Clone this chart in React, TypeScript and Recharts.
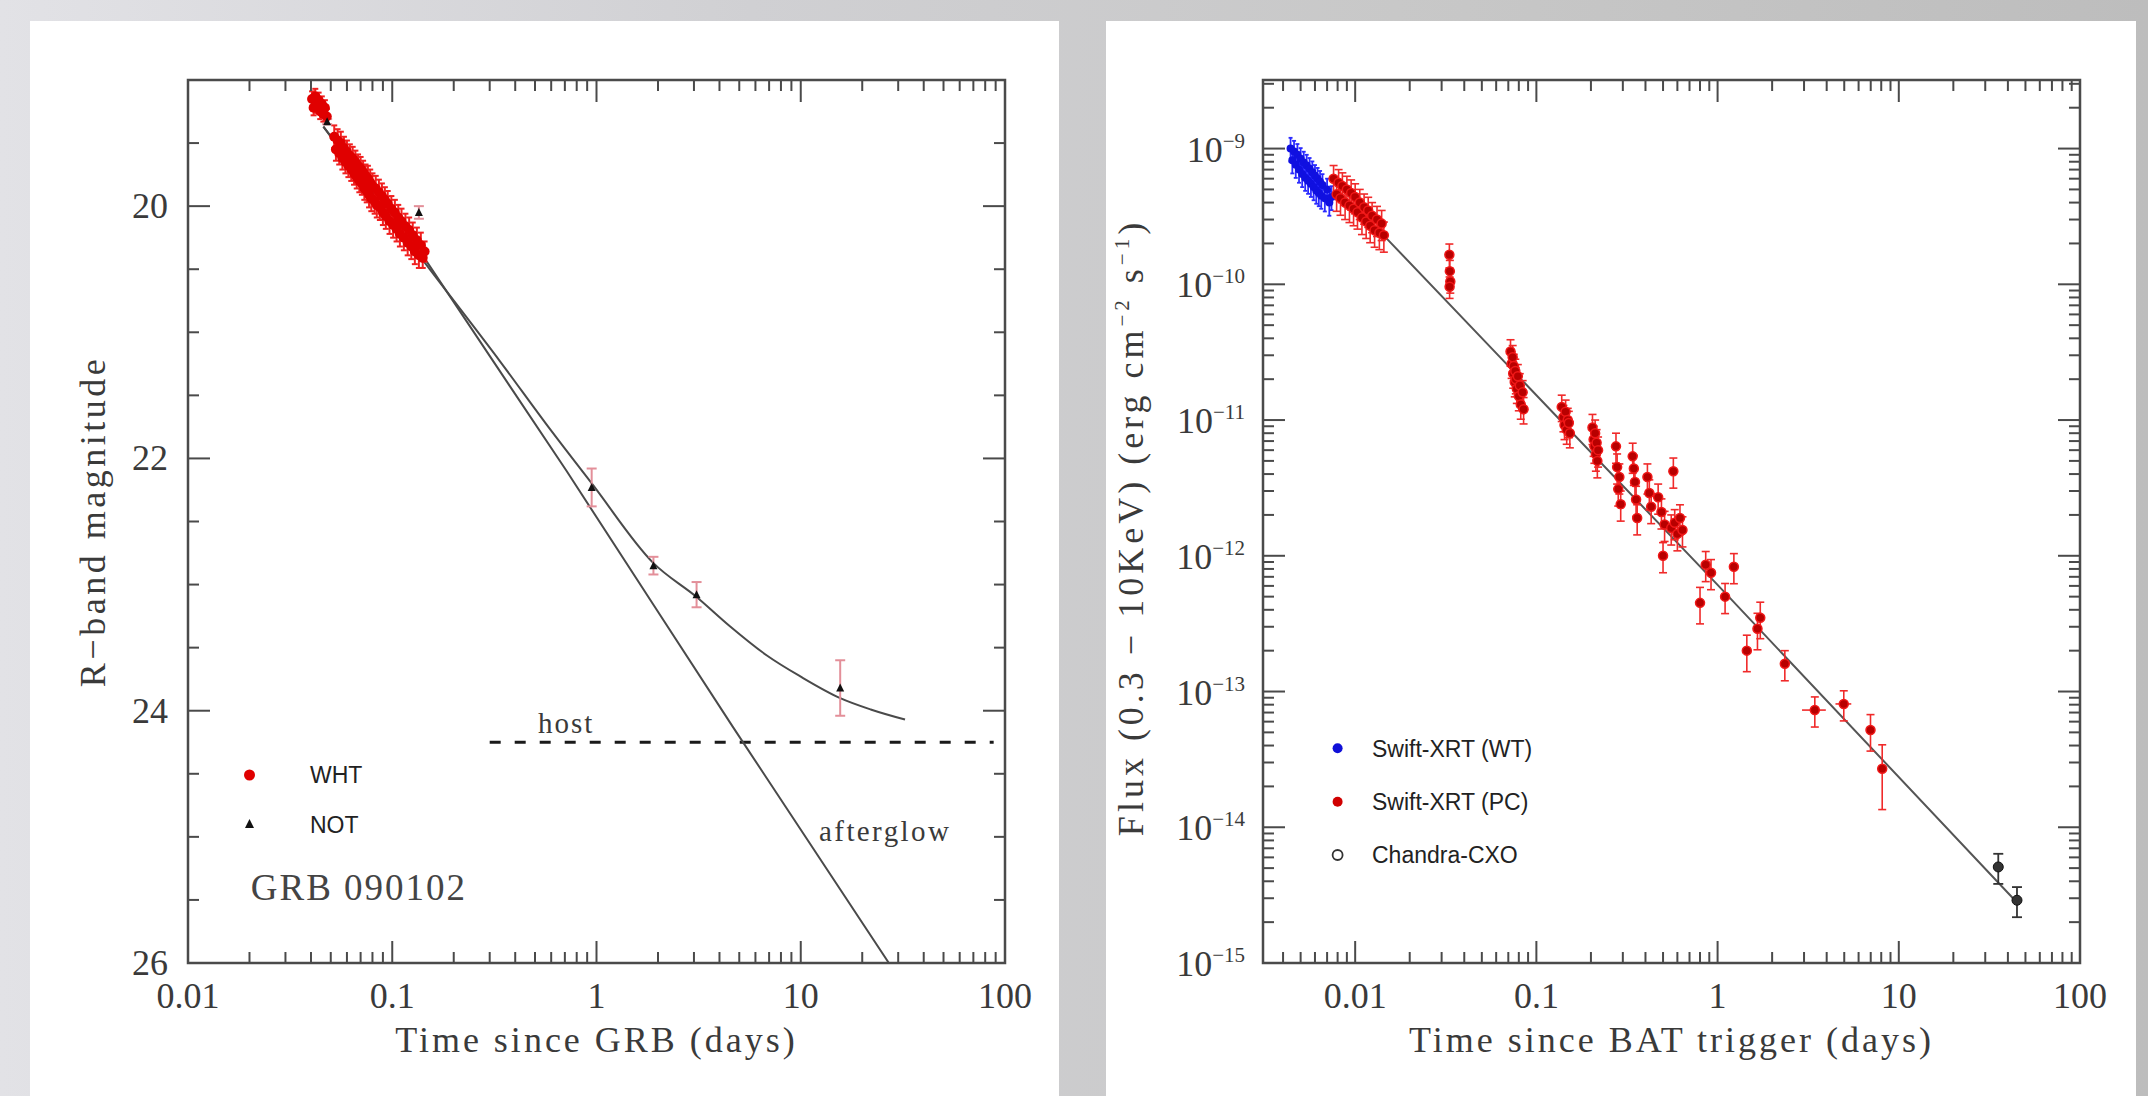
import React from "react";
import {
  ComposedChart,
  Scatter,
  Line,
  XAxis,
  YAxis,
  ErrorBar,
  ReferenceDot,
  Legend,
  Label,
} from "recharts";

const SERIF = '"Liberation Serif", "Times New Roman", serif';
const SANS = '"Liberation Sans", Arial, sans-serif';
const INK = "#3a3a3a";
const FRAME = "#4a4a4a";

// ---------- left panel: GRB 090102 optical light curve ----------
const optDayTicks = [0.01, 0.1, 1, 10, 100];
const magTicks = [20, 22, 24, 26];
const OPT_X: [number, number] = [0.01, 100];
const OPT_Y: [number, number] = [19, 26];

// WHT photometry: [days since GRB, R mag, error]
const whtPoints = [
  [0.0405, 19.15, 0.06], [0.0412, 19.22, 0.06], [0.042, 19.13, 0.06], [0.0428, 19.2, 0.06],
  [0.0436, 19.16, 0.06], [0.0444, 19.25, 0.06], [0.0452, 19.19, 0.06], [0.046, 19.27, 0.06],
  [0.0468, 19.22, 0.06], [0.0478, 19.29, 0.06],
  [0.052, 19.45, 0.09], [0.053, 19.55, 0.09], [0.054, 19.48, 0.09], [0.055, 19.58, 0.09],
  [0.056, 19.5, 0.09], [0.057, 19.62, 0.09], [0.058, 19.54, 0.09], [0.059, 19.65, 0.09],
  [0.06, 19.57, 0.09], [0.061, 19.68, 0.09], [0.062, 19.6, 0.09], [0.063, 19.71, 0.09],
  [0.064, 19.62, 0.09], [0.065, 19.74, 0.09], [0.066, 19.65, 0.09], [0.067, 19.77, 0.09],
  [0.068, 19.68, 0.09], [0.069, 19.8, 0.09], [0.07, 19.7, 0.09], [0.071, 19.82, 0.09],
  [0.072, 19.73, 0.09], [0.073, 19.86, 0.09], [0.074, 19.76, 0.09], [0.075, 19.88, 0.09],
  [0.076, 19.78, 0.1], [0.077, 19.91, 0.1], [0.078, 19.81, 0.1], [0.079, 19.94, 0.1],
  [0.08, 19.84, 0.1], [0.082, 19.96, 0.1], [0.083, 19.86, 0.1], [0.084, 19.99, 0.1],
  [0.086, 19.89, 0.1], [0.087, 20.01, 0.1], [0.089, 19.92, 0.1], [0.09, 20.05, 0.1],
  [0.092, 19.95, 0.1], [0.093, 20.08, 0.1], [0.095, 19.98, 0.1], [0.097, 20.12, 0.1],
  [0.099, 20.02, 0.1], [0.101, 20.15, 0.1], [0.103, 20.05, 0.1], [0.105, 20.18, 0.1],
  [0.107, 20.09, 0.1], [0.109, 20.22, 0.1], [0.111, 20.12, 0.1], [0.114, 20.25, 0.1],
  [0.116, 20.16, 0.1], [0.119, 20.29, 0.1], [0.121, 20.19, 0.1], [0.124, 20.32, 0.1],
  [0.126, 20.23, 0.1], [0.129, 20.36, 0.1], [0.132, 20.27, 0.1], [0.135, 20.39, 0.1],
  [0.138, 20.31, 0.1], [0.141, 20.41, 0.08], [0.144, 20.36, 0.08],
];

// NOT photometry: [days since GRB, R mag, error]
const notPoints = [
  [0.048, 19.33, 0.02], [0.135, 20.05, 0.05], [0.947, 22.23, 0.15],
  [1.9, 22.85, 0.07], [3.09, 23.08, 0.1], [15.6, 23.82, 0.22],
];

// model curves: [days, R mag]
const afterglowCurve = [
  [0.046, 19.37], [0.1476, 20.44], [0.337, 21.31], [0.714, 22.1], [1.9, 23.16], [4.66, 24.13], [27, 26],
];
const totalCurve = [
  [0.046, 19.37], [0.14, 20.42], [0.337, 21.23], [0.6, 21.78], [0.95, 22.2], [1.9, 22.83],
  [3.1, 23.1], [4.5, 23.33], [6.8, 23.56], [10, 23.73], [15.6, 23.9], [22, 23.99], [32.4, 24.07],
];
const hostCurve = [[0.3, 24.25], [88, 24.25]];

// ---------- right panel: X-ray light curve ----------
const xrayDayTicks = [0.01, 0.1, 1, 10, 100];
const fluxTicks = [1e-15, 1e-14, 1e-13, 1e-12, 1e-11, 1e-10, 1e-9];
const XR_X: [number, number] = [0.0031, 100];
const XR_Y: [number, number] = [1e-15, 3.2e-9];

// Swift-XRT WT mode: [days since trigger, flux, fractional error, fractional time error]
const wtPoints = [
  [0.0044, 1.0e-9, 0.2, 0.04], [0.0045, 8.2e-10, 0.2, 0.04], [0.0046, 9.5e-10, 0.2, 0.04],
  [0.0047, 7.6e-10, 0.2, 0.04], [0.0048, 9.0e-10, 0.2, 0.04], [0.0049, 7.0e-10, 0.2, 0.04],
  [0.005, 8.4e-10, 0.2, 0.04], [0.0051, 6.5e-10, 0.2, 0.04], [0.0052, 7.9e-10, 0.2, 0.04],
  [0.0053, 6.1e-10, 0.2, 0.04], [0.0054, 7.5e-10, 0.2, 0.04], [0.0055, 5.8e-10, 0.2, 0.04],
  [0.0056, 7.1e-10, 0.2, 0.04], [0.0057, 5.5e-10, 0.2, 0.04], [0.0058, 6.7e-10, 0.2, 0.04],
  [0.0059, 5.2e-10, 0.2, 0.04], [0.006, 6.3e-10, 0.2, 0.04], [0.0061, 4.9e-10, 0.2, 0.04],
  [0.0062, 6.0e-10, 0.2, 0.04], [0.0063, 4.7e-10, 0.2, 0.04], [0.0064, 5.7e-10, 0.2, 0.04],
  [0.0065, 4.5e-10, 0.2, 0.04], [0.0066, 5.4e-10, 0.2, 0.04], [0.0068, 4.3e-10, 0.2, 0.04],
  [0.007, 5.0e-10, 0.2, 0.04], [0.0072, 4.0e-10, 0.2, 0.04], [0.0074, 4.4e-10, 0.2, 0.04],
];

// Swift-XRT PC mode: [days, flux, fractional flux error, fractional time error]
const pcPoints = [
  [0.0076, 6.0e-10, 0.25, 0.05], [0.0079, 4.6e-10, 0.25, 0.05], [0.0081, 5.6e-10, 0.25, 0.05],
  [0.0083, 4.3e-10, 0.25, 0.05], [0.0085, 5.3e-10, 0.25, 0.05], [0.0088, 4.0e-10, 0.25, 0.05],
  [0.009, 5.0e-10, 0.25, 0.05], [0.0093, 3.8e-10, 0.25, 0.05], [0.0095, 4.7e-10, 0.25, 0.05],
  [0.0098, 3.6e-10, 0.25, 0.05], [0.01, 4.4e-10, 0.25, 0.05], [0.0103, 3.4e-10, 0.25, 0.05],
  [0.0106, 4.0e-10, 0.25, 0.05], [0.0109, 3.1e-10, 0.25, 0.05], [0.0112, 3.7e-10, 0.25, 0.05],
  [0.0115, 2.9e-10, 0.25, 0.05], [0.0118, 3.5e-10, 0.25, 0.05], [0.0121, 2.7e-10, 0.25, 0.05],
  [0.0124, 3.2e-10, 0.25, 0.05], [0.0128, 2.5e-10, 0.25, 0.05], [0.0132, 3.0e-10, 0.25, 0.05],
  [0.0136, 2.4e-10, 0.25, 0.05], [0.014, 2.8e-10, 0.25, 0.05], [0.0144, 2.3e-10, 0.25, 0.05],
  [0.0331, 1.65e-10, 0.2, 0.03], [0.0333, 1.25e-10, 0.2, 0.03], [0.0335, 1.05e-10, 0.18, 0.03],
  [0.0332, 9.6e-11, 0.18, 0.03],
  [0.072, 3.2e-11, 0.22, 0.03], [0.073, 2.6e-11, 0.22, 0.03], [0.074, 2.9e-11, 0.22, 0.03],
  [0.0745, 2.2e-11, 0.22, 0.03], [0.075, 2.5e-11, 0.22, 0.03], [0.076, 1.9e-11, 0.22, 0.03],
  [0.0765, 2.3e-11, 0.22, 0.03], [0.077, 2.0e-11, 0.22, 0.03], [0.078, 1.7e-11, 0.22, 0.03],
  [0.079, 2.1e-11, 0.22, 0.03], [0.08, 1.5e-11, 0.22, 0.03], [0.081, 1.8e-11, 0.22, 0.03],
  [0.082, 1.3e-11, 0.22, 0.03], [0.084, 1.6e-11, 0.22, 0.03], [0.085, 1.2e-11, 0.22, 0.03],
  [0.138, 1.25e-11, 0.22, 0.03], [0.141, 1.05e-11, 0.22, 0.03], [0.143, 9.2e-12, 0.22, 0.03],
  [0.145, 1.15e-11, 0.22, 0.03], [0.147, 8.5e-12, 0.22, 0.03], [0.149, 1.0e-11, 0.22, 0.03],
  [0.151, 9.5e-12, 0.22, 0.03], [0.153, 8.0e-12, 0.22, 0.03],
  [0.204, 8.8e-12, 0.25, 0.03], [0.207, 7.2e-12, 0.25, 0.03], [0.209, 6.4e-12, 0.25, 0.03],
  [0.211, 8.0e-12, 0.25, 0.03], [0.213, 5.6e-12, 0.25, 0.03], [0.215, 6.8e-12, 0.25, 0.03],
  [0.217, 5.0e-12, 0.25, 0.03], [0.219, 6.0e-12, 0.25, 0.03],
  [0.275, 6.4e-12, 0.25, 0.03], [0.279, 4.5e-12, 0.25, 0.03], [0.283, 3.1e-12, 0.25, 0.03],
  [0.287, 3.8e-12, 0.25, 0.03], [0.292, 2.4e-12, 0.25, 0.03], [0.34, 5.4e-12, 0.25, 0.03],
  [0.345, 4.4e-12, 0.25, 0.03], [0.35, 3.5e-12, 0.25, 0.03], [0.355, 2.6e-12, 0.25, 0.03],
  [0.36, 1.9e-12, 0.25, 0.03], [0.41, 3.8e-12, 0.25, 0.03], [0.42, 2.9e-12, 0.25, 0.03],
  [0.43, 2.3e-12, 0.25, 0.03], [0.47, 2.7e-12, 0.25, 0.03], [0.49, 2.1e-12, 0.25, 0.03],
  [0.5, 1.0e-12, 0.25, 0.03], [0.51, 1.7e-12, 0.25, 0.03], [0.555, 1.6e-12, 0.25, 0.03],
  [0.57, 4.2e-12, 0.25, 0.03], [0.58, 1.75e-12, 0.25, 0.03], [0.6, 1.45e-12, 0.25, 0.03],
  [0.62, 1.9e-12, 0.25, 0.03], [0.64, 1.55e-12, 0.25, 0.03],
  [0.8, 4.5e-13, 0.3, 0.03], [0.86, 8.6e-13, 0.25, 0.03], [0.92, 7.5e-13, 0.25, 0.03],
  [1.1, 5.0e-13, 0.25, 0.04], [1.23, 8.3e-13, 0.25, 0.03], [1.45, 2.0e-13, 0.3, 0.04],
  [1.66, 2.9e-13, 0.3, 0.04], [1.72, 3.5e-13, 0.3, 0.04], [2.35, 1.6e-13, 0.25, 0.05],
  [3.44, 7.3e-14, 0.25, 0.15], [4.97, 8.1e-14, 0.25, 0.1], [6.98, 5.2e-14, 0.3, 0.04],
  [8.1, 2.7e-14, 0.5, 0.03],
];

// Chandra: [days, flux, fractional error]
const cxoPoints = [[35.4, 5.1e-15, 0.25], [44.9, 2.9e-15, 0.25]];

// power-law fit: [days, flux]
const xrayFit = [[0.0148, 2.2e-10], [1, 6.1e-13], [46, 2.7e-15]];

// ---------- table building ----------
const magRows = (rows: number[][]) => rows.map(([t, m, e]) => ({ t, m, ey: e }));
const curveRows = (rows: number[][]) => rows.map(([t, m]) => ({ t, m }));
const fluxRows = (rows: number[][]) =>
  rows.map(([t, f, fe, te]) => ({ t, f, ey: [f * fe, f * fe], ex: [t * (te || 0.02), t * (te || 0.02)] }));
const fitRows = (rows: number[][]) => rows.map(([t, f]) => ({ t, f }));

// ---------- frame with inward ticks (PGPLOT style) ----------
type Box = { l: number; t: number; r: number; b: number };
type Tk = { p: number; major: boolean };

const logPos = (v: number, lo: number, hi: number, a: number, b: number) =>
  a + ((Math.log10(v) - Math.log10(lo)) / (Math.log10(hi) - Math.log10(lo))) * (b - a);

function logTicks(lo: number, hi: number, a: number, b: number): Tk[] {
  const out: Tk[] = [];
  for (let d = Math.floor(Math.log10(lo)); d <= Math.ceil(Math.log10(hi)); d++) {
    for (let k = 1; k <= 9; k++) {
      const v = k * Math.pow(10, d);
      if (v >= lo * 0.999 && v <= hi * 1.001) out.push({ p: logPos(v, lo, hi, a, b), major: k === 1 });
    }
  }
  return out;
}

function FrameOverlay({ w, h, box, xt, yt }: { w: number; h: number; box: Box; xt: Tk[]; yt: Tk[] }) {
  const segs: React.ReactNode[] = [];
  xt.forEach(({ p, major }, i) => {
    const len = major ? 22 : 11;
    segs.push(<line key={"xb" + i} x1={p} x2={p} y1={box.b} y2={box.b - len} />);
    segs.push(<line key={"xt" + i} x1={p} x2={p} y1={box.t} y2={box.t + len} />);
  });
  yt.forEach(({ p, major }, i) => {
    const len = major ? 22 : 11;
    segs.push(<line key={"yl" + i} x1={box.l} x2={box.l + len} y1={p} y2={p} />);
    segs.push(<line key={"yr" + i} x1={box.r} x2={box.r - len} y1={p} y2={p} />);
  });
  return (
    <svg width={w} height={h} style={{ position: "absolute", left: 0, top: 0, pointerEvents: "none" }}>
      <g stroke={FRAME} strokeWidth={2}>{segs}</g>
      <rect x={box.l} y={box.t} width={box.r - box.l} height={box.b - box.t} fill="none" stroke={FRAME} strokeWidth={2.5} />
    </svg>
  );
}

// ---------- tick labels ----------
const DayTick = ({ x, y, payload }: any) => (
  <text x={x} y={y + 45} textAnchor="middle" fontFamily={SERIF} fontSize={36} fill={INK}>
    {String(payload.value)}
  </text>
);

const MagTick = ({ x, y, payload }: any) => (
  <text x={x - 20} y={y + 12} textAnchor="end" fontFamily={SERIF} fontSize={36} fill={INK}>
    {payload.value}
  </text>
);

const PowTick = ({ x, y, payload }: any) => {
  const exp = Math.round(Math.log10(payload.value));
  return (
    <text x={x - 18} y={y + 13} textAnchor="end" fontFamily={SERIF} fontSize={36} fill={INK}>
      10
      <tspan dy={-14} fontSize={21}>{"\u2212" + String(-exp)}</tspan>
    </text>
  );
};

const titleY = (p: any) => (p && p.viewBox && p.viewBox.height ? p.viewBox.y + p.viewBox.height / 2 : 500);

const MagTitle = (p: any) => (
  <text transform={`translate(63,${titleY(p)}) rotate(-90)`} dy={12} textAnchor="middle"
    fontFamily={SERIF} fontSize={36} letterSpacing={3.5} fill={INK}>
    R{"\u2212"}band magnitude
  </text>
);

const FluxTitle = (p: any) => (
  <text transform={`translate(25,${titleY(p) + 6}) rotate(-90)`} dy={12} textAnchor="middle"
    fontFamily={SERIF} fontSize={36} letterSpacing={4} fill={INK}>
    Flux (0.3 {"\u2212"} 10KeV) (erg cm
    <tspan dy={-14} fontSize={21}>{"\u22122"}</tspan>
    <tspan dy={14}> s</tspan>
    <tspan dy={-14} fontSize={21}>{"\u22121"}</tspan>
    <tspan dy={14}>)</tspan>
  </text>
);

// ---------- legends ----------
const OpticalKey = () => (
  <svg width={200} height={100} style={{ display: "block" }}>
    <circle cx={14.5} cy={19} r={5.5} fill="#e00000" />
    <text x={75} y={27} fontFamily={SANS} fontSize={23} fill="#222">WHT</text>
    <path d="M14.5 63 L19 72 L10 72 Z" fill="#111" />
    <text x={75} y={77} fontFamily={SANS} fontSize={23} fill="#222">NOT</text>
  </svg>
);

const XrayKey = () => (
  <svg width={260} height={150} style={{ display: "block" }}>
    <circle cx={16.6} cy={22.3} r={5} fill="#1010d8" />
    <text x={51} y={30.5} fontFamily={SANS} fontSize={23} fill="#222">Swift-XRT (WT)</text>
    <circle cx={16.6} cy={75.7} r={5} fill="#d00000" />
    <text x={51} y={84} fontFamily={SANS} fontSize={23} fill="#222">Swift-XRT (PC)</text>
    <circle cx={16.6} cy={129} r={5} fill="none" stroke="#333" strokeWidth={1.8} />
    <text x={51} y={137} fontFamily={SANS} fontSize={23} fill="#222">Chandra-CXO</text>
  </svg>
);

// ---------- charts ----------
const OPT_W = 1029;
const OPT_H = 1075;
const OPT_BOX: Box = { l: 158, t: 59, r: 975, b: 942 };

function OpticalChart() {
  const xt = logTicks(OPT_X[0], OPT_X[1], OPT_BOX.l, OPT_BOX.r);
  const yt: Tk[] = [];
  for (let m = 19.5; m < 26; m += 0.5) {
    yt.push({ p: OPT_BOX.t + ((m - OPT_Y[0]) / (OPT_Y[1] - OPT_Y[0])) * (OPT_BOX.b - OPT_BOX.t), major: m % 2 === 0 });
  }
  return (
    <div style={{ position: "relative", width: OPT_W, height: OPT_H }}>
      <ComposedChart width={OPT_W} height={OPT_H} margin={{ top: 59, right: 54, bottom: 0, left: 0 }}>
        <XAxis dataKey="t" type="number" scale="log" domain={OPT_X} allowDataOverflow ticks={optDayTicks}
          interval={0} axisLine={false} tickLine={false} tickSize={0} tickMargin={0} height={133}
          tick={(p: any) => <DayTick {...p} />}>
          <Label value="Time since GRB (days)" position="insideBottom" offset={44} fill={INK}
            fontFamily={SERIF} fontSize={36} letterSpacing={3} />
        </XAxis>
        <YAxis dataKey="m" type="number" domain={OPT_Y} reversed allowDataOverflow ticks={magTicks}
          interval={0} axisLine={false} tickLine={false} tickSize={0} tickMargin={0} width={158}
          tick={(p: any) => <MagTick {...p} />}>
          <Label content={(p: any) => <MagTitle {...p} />} />
        </YAxis>
        <Line data={curveRows(hostCurve)} dataKey="m" type="linear" stroke="#1a1a1a" strokeWidth={3}
          strokeDasharray="11 14" dot={false} isAnimationActive={false} />
        <Line data={curveRows(afterglowCurve)} dataKey="m" type="linear" stroke="#4a4a4a" strokeWidth={2}
          dot={false} isAnimationActive={false} />
        <Line data={curveRows(totalCurve)} dataKey="m" type="monotone" stroke="#4a4a4a" strokeWidth={2}
          dot={false} isAnimationActive={false} />
        <Scatter data={magRows(whtPoints)} isAnimationActive={false}
          shape={(p: any) => <circle cx={p.cx} cy={p.cy} r={5} fill="#e00000" />}>
          <ErrorBar dataKey="ey" direction="y" width={3} stroke="#f02020" strokeWidth={2} isAnimationActive={false} />
        </Scatter>
        <Scatter data={magRows(notPoints)} isAnimationActive={false}
          shape={(p: any) => <path d={`M${p.cx} ${p.cy - 4.5} L${p.cx + 4} ${p.cy + 3.5} L${p.cx - 4} ${p.cy + 3.5} Z`} fill="#111" />}>
          <ErrorBar dataKey="ey" direction="y" width={5} stroke="#e38f99" strokeWidth={2} isAnimationActive={false} />
        </Scatter>
        <ReferenceDot x={0.71} y={24.25} r={0} fill="none" stroke="none"
          label={{ value: "host", position: "top", offset: 9, fill: INK, fontFamily: SERIF, fontSize: 29, letterSpacing: 2 }} />
        <ReferenceDot x={25.9} y={24.95} r={0} fill="none" stroke="none"
          label={{ value: "afterglow", position: "center", fill: INK, fontFamily: SERIF, fontSize: 29, letterSpacing: 2.4 }} />
        <ReferenceDot x={0.0203} y={25.4} r={0} fill="none" stroke="none"
          label={{ value: "GRB 090102", position: "right", offset: 0, fill: "#444", fontFamily: SERIF, fontSize: 37, letterSpacing: 2 }} />
        <Legend layout="vertical" align="center" verticalAlign="middle" content={() => <OpticalKey />}
          wrapperStyle={{ left: 205, top: 735, width: 200, height: 100 }} />
      </ComposedChart>
      <FrameOverlay w={OPT_W} h={OPT_H} box={OPT_BOX} xt={xt} yt={yt} />
    </div>
  );
}

const XR_W = 1030;
const XR_H = 1075;
const XR_BOX: Box = { l: 157, t: 59, r: 974, b: 942 };

function XrayChart() {
  const xt = logTicks(XR_X[0], XR_X[1], XR_BOX.l, XR_BOX.r);
  const yt = logTicks(XR_Y[0], XR_Y[1], XR_BOX.b, XR_BOX.t);
  return (
    <div style={{ position: "relative", width: XR_W, height: XR_H }}>
      <ComposedChart width={XR_W} height={XR_H} margin={{ top: 59, right: 56, bottom: 0, left: 0 }}>
        <XAxis dataKey="t" type="number" scale="log" domain={XR_X} allowDataOverflow ticks={xrayDayTicks}
          interval={0} axisLine={false} tickLine={false} tickSize={0} tickMargin={0} height={133}
          tick={(p: any) => <DayTick {...p} />}>
          <Label value="Time since BAT trigger (days)" position="insideBottom" offset={44} fill={INK}
            fontFamily={SERIF} fontSize={36} letterSpacing={3} />
        </XAxis>
        <YAxis dataKey="f" type="number" scale="log" domain={XR_Y} allowDataOverflow ticks={fluxTicks}
          interval={0} axisLine={false} tickLine={false} tickSize={0} tickMargin={0} width={157}
          tick={(p: any) => <PowTick {...p} />}>
          <Label content={(p: any) => <FluxTitle {...p} />} />
        </YAxis>
        <Line data={fitRows(xrayFit)} dataKey="f" type="linear" stroke="#555" strokeWidth={2}
          dot={false} isAnimationActive={false} />
        <Scatter data={fluxRows(wtPoints)} isAnimationActive={false}
          shape={(p: any) => <circle cx={p.cx} cy={p.cy} r={4} fill="#1010e0" />}>
          <ErrorBar dataKey="ey" direction="y" width={2} stroke="#2a2aff" strokeWidth={1.8} isAnimationActive={false} />
          <ErrorBar dataKey="ex" direction="x" width={0} stroke="#2a2aff" strokeWidth={1.8} isAnimationActive={false} />
        </Scatter>
        <Scatter data={fluxRows(pcPoints)} isAnimationActive={false}
          shape={(p: any) => <circle cx={p.cx} cy={p.cy} r={4.5} fill="#b80000" stroke="#f01818" strokeWidth={1.5} />}>
          <ErrorBar dataKey="ey" direction="y" width={4} stroke="#f02a2a" strokeWidth={1.6} isAnimationActive={false} />
          <ErrorBar dataKey="ex" direction="x" width={0} stroke="#f02a2a" strokeWidth={1.6} isAnimationActive={false} />
        </Scatter>
        <Scatter data={fluxRows(cxoPoints)} isAnimationActive={false}
          shape={(p: any) => <circle cx={p.cx} cy={p.cy} r={5} fill="#333" stroke="#111" strokeWidth={1} />}>
          <ErrorBar dataKey="ey" direction="y" width={5} stroke="#333" strokeWidth={1.8} isAnimationActive={false} />
        </Scatter>
        <Legend layout="vertical" align="center" verticalAlign="middle" content={() => <XrayKey />}
          wrapperStyle={{ left: 215, top: 705, width: 260, height: 150 }} />
      </ComposedChart>
      <FrameOverlay w={XR_W} h={XR_H} box={XR_BOX} xt={xt} yt={yt} />
    </div>
  );
}

export default function App() {
  return (
    <div
      style={{
        position: "fixed",
        left: 0,
        top: 0,
        width: 2148,
        height: 1096,
        overflow: "hidden",
        background: "linear-gradient(90deg, #e2e2e6 0%, #d0d0d3 35%, #c8c8c8 65%, #bdbdbd 100%)",
      }}
    >
      <div style={{ position: "absolute", left: 30, top: 21, width: OPT_W, height: OPT_H, background: "#fff" }}>
        <OpticalChart />
      </div>
      <div style={{ position: "absolute", left: 1106, top: 21, width: XR_W, height: XR_H, background: "#fff" }}>
        <XrayChart />
      </div>
    </div>
  );
}
